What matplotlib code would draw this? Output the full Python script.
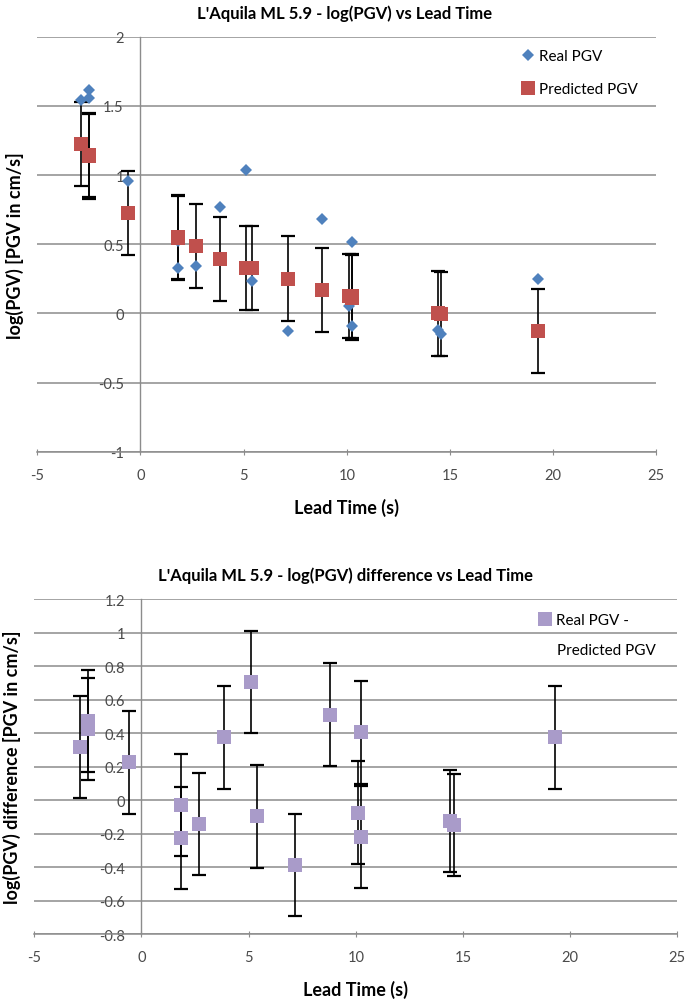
import numpy as np
import matplotlib.pyplot as plt

plt.rcParams['font.family'] = ['Lato', 'DejaVu Sans']

# station lead times (s) and log(PGV) values
lead_time = [-2.86, -2.5, -2.5, -0.6, 1.84, 1.84, 2.67, 3.84, 5.1, 5.4,
             7.16, 8.8, 10.23, 10.1, 10.23, 14.4, 14.58, 19.29]
real_pgv = [1.545, 1.618, 1.558, 0.954, 0.52, 0.326, 0.343, 0.766, 1.036, 0.234,
            -0.128, 0.679, 0.517, 0.053, -0.092, -0.123, -0.152, 0.251]
pred_pgv = [1.225, 1.145, 1.135, 0.725, 0.543, 0.553, 0.488, 0.391, 0.33, 0.326,
            0.251, 0.168, 0.114, 0.125, 0.125, 0.0, -0.003, -0.128]
diff_pgv = [0.318, 0.473, 0.424, 0.225, -0.028, -0.227, -0.143, 0.374, 0.706, -0.097,
            -0.386, 0.511, 0.404, -0.074, -0.219, -0.123, -0.149, 0.374]
pgv_err = 0.305

xticks = [-5, 0, 5, 10, 15, 20, 25]
yticks_top = [-1, -0.5, 0, 0.5, 1, 1.5, 2]
yticks_bot = [-0.8, -0.6, -0.4, -0.2, 0, 0.2, 0.4, 0.6, 0.8, 1, 1.2]

GRID = '#8c8c8c'
TICK = '#4a4a4a'
BLUE = '#4F81BD'
RED = '#C0504D'
PURPLE = '#A99BC9'


def style(ax, yticks):
    ax.set_xlim(-5, 25)
    ax.set_ylim(yticks[0], yticks[-1])
    ax.set_xticks(xticks)
    ax.set_xticklabels(['%g' % v for v in xticks])
    ax.set_yticks(yticks)
    ax.set_yticklabels(['%g' % v for v in yticks])
    ax.spines['top'].set_visible(False)
    ax.spines['right'].set_visible(False)
    ax.spines['left'].set_position(('data', 0))
    ax.spines['left'].set_color(GRID)
    ax.spines['bottom'].set_color(GRID)
    ax.spines['left'].set_linewidth(1.0)
    ax.spines['bottom'].set_linewidth(1.1)
    ax.yaxis.grid(True, color=GRID, lw=1.1)
    ax.set_axisbelow(True)
    ax.tick_params(axis='y', length=0, pad=12, labelsize=10.5, labelcolor=TICK)
    ax.tick_params(axis='x', direction='inout', length=5, color=GRID, pad=9,
                   labelsize=10.5, labelcolor=TICK)


fig = plt.figure(figsize=(6.86, 10.03), dpi=100)

# top: log(PGV) vs lead time
ax1 = fig.add_axes([37.3 / 686, 1 - 452.7 / 1003, 619 / 686, 415 / 1003])
style(ax1, yticks_top)
ax1.errorbar(lead_time, pred_pgv, yerr=pgv_err, fmt='none', ecolor='black',
             elinewidth=1.2, capsize=5, capthick=1.6, zorder=2)
ax1.plot(lead_time, real_pgv, 'D', color=BLUE, ms=6.6, mew=0, ls='none',
         label='Real PGV', zorder=3)
ax1.plot(lead_time, pred_pgv, 's', color=RED, ms=9.6, mew=0, ls='none',
         label='Predicted PGV', zorder=4)
ax1.legend(loc='upper left', bbox_to_anchor=(522 / 686, 1 - 50 / 1003),
           bbox_transform=fig.transFigure, frameon=False, borderpad=0,
           borderaxespad=0, handlelength=0.8, handletextpad=0.3,
           labelspacing=1.25, fontsize=11)
ax1.set_xlabel('Lead Time (s)', fontsize=13, fontweight='bold', va='center')
ax1.xaxis.set_label_coords(0.5, -0.133)
ax1.set_ylabel('log(PGV) [PGV in cm/s]', fontsize=13, fontweight='bold', va='center')
ax1.yaxis.set_label_coords(-0.036, 0.5)
fig.text(345 / 686, 1 - 14 / 1003, "L'Aquila ML 5.9 - log(PGV) vs Lead Time",
         ha='center', va='center', fontsize=12, fontweight='bold')

# bottom: difference vs lead time
ax2 = fig.add_axes([34.3 / 686, 1 - 935.3 / 1003, 643 / 686, 335.3 / 1003])
style(ax2, yticks_bot)
ax2.errorbar(lead_time, diff_pgv, yerr=pgv_err, fmt='none', ecolor='black',
             elinewidth=1.2, capsize=5, capthick=1.6, zorder=2)
ax2.plot(lead_time, diff_pgv, 's', color=PURPLE, ms=9.6, mew=0, ls='none',
         label='Real PGV -', zorder=4)
ax2.legend(loc='upper left', bbox_to_anchor=(539 / 686, 1 - 614 / 1003),
           bbox_transform=fig.transFigure, frameon=False, borderpad=0,
           borderaxespad=0, handlelength=0.8, handletextpad=0.3, fontsize=11)
fig.text(556.7 / 686, 1 - 651 / 1003, 'Predicted PGV', ha='left', va='center',
         fontsize=11)
ax2.set_xlabel('Lead Time (s)', fontsize=13, fontweight='bold', va='center')
ax2.xaxis.set_label_coords(0.5, -0.163)
ax2.set_ylabel('log(PGV) difference [PGV in cm/s]', fontsize=13,
               fontweight='bold', va='center')
ax2.yaxis.set_label_coords(-0.035, 0.5)
fig.text(345 / 686, 1 - 576 / 1003,
         "L'Aquila ML 5.9 - log(PGV) difference vs Lead Time",
         ha='center', va='center', fontsize=12, fontweight='bold')

fig.savefig('out.png', dpi=100)
